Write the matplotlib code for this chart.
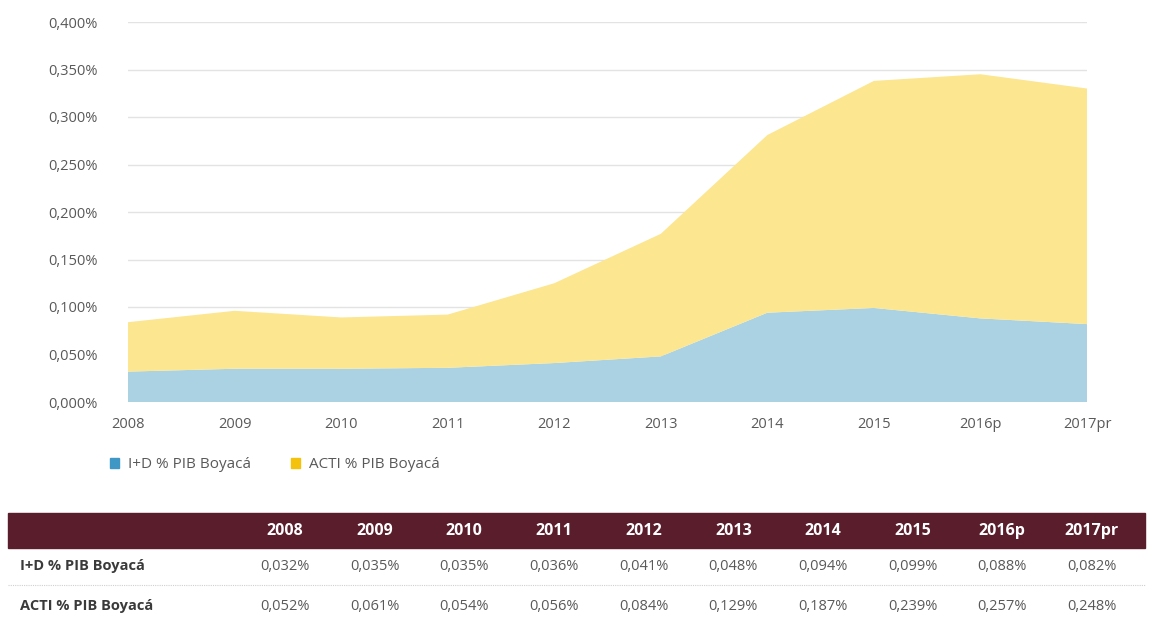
import matplotlib
matplotlib.use("Agg")
import matplotlib.pyplot as plt
from matplotlib.patches import Patch, Rectangle
import numpy as np

plt.rcParams['font.family'] = ['Open Sans', 'DejaVu Sans']

# data
years = ["2008", "2009", "2010", "2011", "2012", "2013", "2014", "2015", "2016p", "2017pr"]
id_pib = [0.032, 0.035, 0.035, 0.036, 0.041, 0.048, 0.094, 0.099, 0.088, 0.082]
acti_pib = [0.052, 0.061, 0.054, 0.056, 0.084, 0.129, 0.187, 0.239, 0.257, 0.248]
yticks = [0.0, 0.05, 0.10, 0.15, 0.20, 0.25, 0.30, 0.35, 0.40]
series_names = ["I+D % PIB Boyacá", "ACTI % PIB Boyacá"]

blue_fill = "#abd2e2"
yellow_fill = "#fce690"
blue_mark = "#3f97c6"
yellow_mark = "#f4c20d"
maroon = "#5a1d2b"
grey_txt = "#595959"

def pct(v):
    return ("%.3f%%" % v).replace(".", ",")

fig = plt.figure(figsize=(11.52, 6.18), dpi=100)
W, H = 1152, 618

# area chart
ax = fig.add_axes([128 / W, 1 - 402 / H, (1087 - 128) / W, (402 - 22) / H])
x = np.arange(len(years))
ax.stackplot(x, id_pib, acti_pib, colors=[blue_fill, yellow_fill], linewidth=0, zorder=2)
ax.set_xlim(0, len(years) - 1)
ax.set_ylim(0, 0.4)
ax.set_yticks(yticks)
ax.set_yticklabels([pct(v) for v in yticks], color=grey_txt, fontsize=10.5)
ax.set_xticks(x)
ax.set_xticklabels(years, color=grey_txt, fontsize=10.5)
ax.tick_params(length=0, axis='y', pad=22)
ax.tick_params(length=0, axis='x', pad=11)
for s in ax.spines.values():
    s.set_visible(False)
ax.grid(axis='y', color="#e3e3e3", linewidth=1, zorder=0)
ax.set_axisbelow(True)

# legend
handles = [Patch(color=blue_mark), Patch(color=yellow_mark)]
fig.legend(handles, series_names, loc='center left', bbox_to_anchor=(96 / W, 1 - 465 / H),
           ncol=2, frameon=False, fontsize=11, handlelength=0.6, handleheight=0.6,
           columnspacing=2.6, handletextpad=0.6, labelcolor=grey_txt)

# table
tab = fig.add_axes([0, 0, 1, 1], zorder=-1)
tab.set_xlim(0, W)
tab.set_ylim(H, 0)
tab.axis('off')
tab.add_patch(Rectangle((8, 513), 1137, 35, color=maroon))
col_x = np.linspace(285, 1092, len(years))
for cx, yr in zip(col_x, years):
    tab.text(cx, 531, yr, color="white", fontsize=11.5, fontweight='bold', ha='center', va='center')
rows = [id_pib, acti_pib]
row_y = [566, 606]
for name, vals, ry in zip(series_names, rows, row_y):
    tab.text(20, ry, name, color="#3a3a3a", fontsize=10.5, fontweight='bold', ha='left', va='center')
    for cx, v in zip(col_x, vals):
        tab.text(cx, ry, pct(v), color=grey_txt, fontsize=10.5, ha='center', va='center')
tab.plot([8, 1145], [585, 585], color="#d0d0d0", linewidth=0.8, linestyle=(0, (1, 1)))

fig.savefig("out.png", dpi=100)
